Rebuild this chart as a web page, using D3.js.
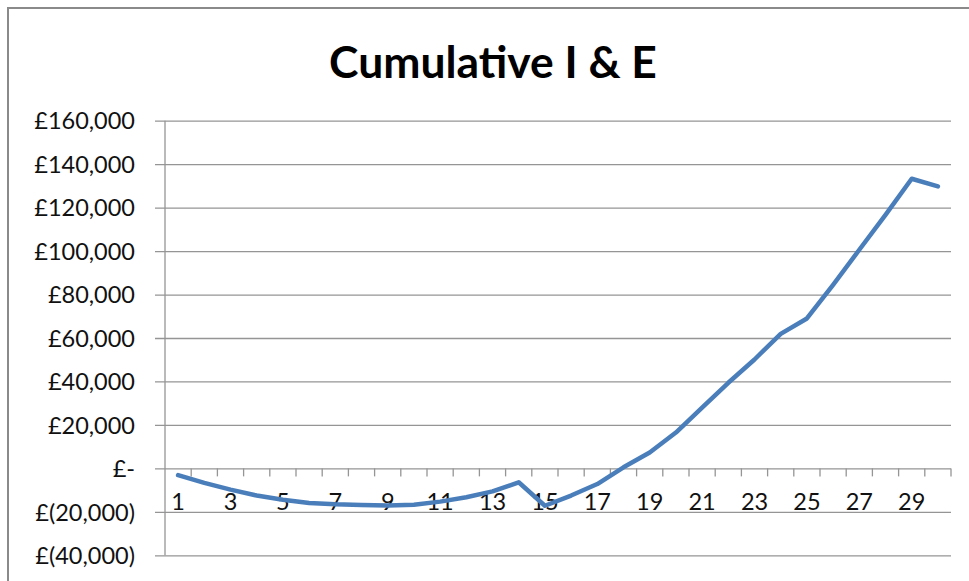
<!DOCTYPE html>
<html>
<head>
<meta charset="utf-8">
<script src="https://cdn.jsdelivr.net/npm/d3@7"></script>
<style>
  html, body { margin: 0; padding: 0; background: #fff; }
  svg { display: block; }
</style>
</head>
<body>
<svg id="chart" width="969" height="581"></svg>
<script>
// ---- Data ----
const categories = d3.range(1, 31);
const cumulativeValues = [
  -3100, -6700, -9800, -12500, -14400, -15900, -16500, -16800, -17100, -16700,
  -15300, -13300, -10600, -6400, -17200, -12500, -7200, 500, 7300, 16500,
  28000, 39400, 50100, 61900, 69000, 84500, 100600, 116700, 133300, 129800
];
const yTickValues = [-40000, -20000, 0, 20000, 40000, 60000, 80000, 100000, 120000, 140000, 160000];
const yTickLabels = ["£(40,000)", "£(20,000)", "£-", "£20,000", "£40,000", "£60,000", "£80,000", "£100,000", "£120,000", "£140,000", "£160,000"];
const xTickLabels = [1, 3, 5, 7, 9, 11, 13, 15, 17, 19, 21, 23, 25, 27, 29];
const title = "Cumulative I & E";

// ---- Layout ----
const svg = d3.select("#chart");
const plot = { left: 165, right: 951, top: 120.7, bottom: 555.3 };
const font = "Lato, 'Open Sans', sans-serif";

// frame
svg.append("rect")
  .attr("x", 8).attr("y", 8)
  .attr("width", 1000).attr("height", 600)
  .attr("fill", "#fff")
  .attr("stroke", "#8a8a8a").attr("stroke-width", 2);

const x = d3.scaleBand().domain(categories).range([plot.left, plot.right]).padding(0);
const y = d3.scaleLinear().domain([-40000, 160000]).range([plot.bottom, plot.top]);

// gridlines + y ticks
const yAxis = d3.axisLeft(y)
  .tickValues(yTickValues)
  .tickSize(-(plot.right - plot.left) - 10)
  .tickFormat((d, i) => yTickLabels[i])
  .tickPadding(0);
const gy = svg.append("g")
  .attr("transform", `translate(${plot.right},0)`)
  .call(yAxis);
gy.select(".domain").remove();
gy.selectAll(".tick line")
  .attr("x1", 0)
  .attr("x2", -(plot.right - plot.left) - 10)
  .attr("stroke", "#959595").attr("stroke-width", 1.3);
gy.selectAll(".tick text")
  .attr("x", -(plot.right - plot.left) - 30)
  .attr("dy", "0.35em")
  .attr("font-family", font)
  .attr("font-size", 23.5)
  .attr("fill", "#111")
  .attr("text-anchor", "end");

// vertical axis line
svg.append("line")
  .attr("x1", plot.left).attr("x2", plot.left)
  .attr("y1", plot.top).attr("y2", plot.bottom)
  .attr("stroke", "#959595").attr("stroke-width", 1.3);

// x axis at zero: boundary ticks
const y0 = y(0);
const boundaries = categories.map(c => x(c)).concat([plot.right]);
svg.append("g").selectAll("line")
  .data(boundaries.slice(1))
  .join("line")
  .attr("x1", d => d).attr("x2", d => d)
  .attr("y1", y0).attr("y2", y0 + 8)
  .attr("stroke", "#959595").attr("stroke-width", 1.3);

// x labels
const xAxis = d3.axisBottom(x).tickValues(xTickLabels).tickSize(0).tickPadding(0);
const gx = svg.append("g").attr("transform", `translate(0,${y0})`).call(xAxis);
gx.select(".domain").remove();
gx.selectAll(".tick text")
  .attr("y", 42)
  .attr("dy", 0)
  .attr("font-family", font)
  .attr("font-size", 23.5)
  .attr("fill", "#111");

// line
const line = d3.line()
  .x((d, i) => x(categories[i]) + x.bandwidth() / 2)
  .y(d => y(d));
svg.append("path")
  .datum(cumulativeValues)
  .attr("d", line)
  .attr("fill", "none")
  .attr("stroke", "#4a7ebb")
  .attr("stroke-width", 4.5)
  .attr("stroke-linejoin", "round")
  .attr("stroke-linecap", "round");

// title
const t = svg.append("text")
  .attr("x", 493).attr("y", 78)
  .attr("text-anchor", "middle")
  .attr("font-family", font)
  .attr("font-weight", "bold")
  .attr("font-size", 44)
  .attr("fill", "#000")
  .text(title);
const w = t.node().getComputedTextLength();
t.attr("font-size", 44 * 328 / w);
</script>
</body>
</html>
